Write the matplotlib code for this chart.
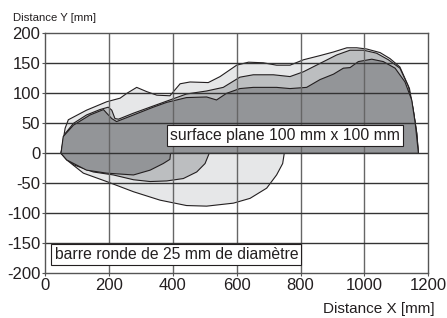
import matplotlib.pyplot as plt
from matplotlib.patches import Polygon

plt.rcParams['font.family'] = ['Liberation Sans', 'DejaVu Sans']
plt.rcParams['axes.unicode_minus'] = False

# outer zone (light gray): upper edge then lower edge, both starting at the left tip
light_top_x = [50, 63, 73, 130, 193, 235, 256, 287, 318, 350, 391, 423, 454, 511, 548,
               600, 637, 683, 725, 767, 809, 861, 903, 945, 976, 1007, 1049, 1080, 1111,
               1141, 1153, 1164, 1169]
light_top_y = [0, 42, 56, 72, 86, 92, 100, 110, 103, 97, 96, 116, 119, 118, 128,
               147, 152, 151, 147, 147, 156, 163, 169, 176, 176, 174, 168, 158, 144,
               108, 72, 33, 0]
light_bot_x = [50, 68, 120, 193, 277, 360, 443, 506, 590, 642, 694, 725, 744, 749]
light_bot_y = [0, -11, -33, -47, -64, -78, -87, -88, -83, -75, -58, -36, -17, 0]

# middle zone (medium gray)
mid_top_x = [50, 63, 89, 130, 172, 198, 209, 219, 230, 277, 339, 391, 443, 506, 558,
             610, 652, 715, 767, 809, 861, 913, 955, 997, 1038, 1075, 1111, 1138, 1153,
             1164, 1169]
mid_top_y = [0, 33, 50, 64, 73, 77, 72, 58, 57, 67, 79, 89, 99, 104, 110,
             127, 131, 131, 128, 136, 150, 164, 172, 172, 167, 156, 142, 111, 72,
             33, 0]
mid_bot_x = [50, 89, 151, 214, 277, 329, 381, 433, 475, 501, 514]
mid_bot_y = [0, -19, -31, -36, -44, -47, -46, -42, -31, -17, 0]

# inner zone (dark gray)
dark_top_x = [50, 57, 89, 141, 183, 193, 209, 224, 277, 339, 381, 443, 506, 537, 568,
              610, 652, 725, 767, 819, 861, 903, 934, 955, 981, 1023, 1059, 1096, 1127,
              1148, 1159, 1169]
dark_top_y = [0, 28, 47, 64, 73, 67, 58, 53, 64, 77, 85, 93, 94, 89, 100,
              108, 110, 110, 108, 110, 123, 132, 142, 143, 153, 157, 153, 142, 119,
              89, 50, 0]
dark_bot_x = [50, 68, 130, 193, 277, 329, 370, 391, 393]
dark_bot_y = [0, -11, -28, -33, -36, -28, -17, -10, 0]

zones = [
    (light_top_x, light_top_y, light_bot_x, light_bot_y, '#e6e7e8'),
    (mid_top_x, mid_top_y, mid_bot_x, mid_bot_y, '#bcbec0'),
    (dark_top_x, dark_top_y, dark_bot_x, dark_bot_y, '#939598'),
]

fig = plt.figure(figsize=(4.47, 3.18), dpi=100)
ax = fig.add_axes([0.1007, 0.1405, 0.8575, 0.7545])

for tx, ty, bx, by, col in zones:
    pts = list(zip(tx, ty)) + list(zip(bx[::-1], by[::-1]))
    ax.add_patch(Polygon(pts, closed=True, facecolor=col, edgecolor='#231f20',
                         linewidth=0.8, zorder=1))

ax.set_xlim(0, 1200)
ax.set_ylim(-200, 200)
ax.set_xticks(range(0, 1201, 200))
ax.set_yticks(range(-200, 201, 50))
for x in range(200, 1200, 200):
    ax.axvline(x, color='#666666', linewidth=1.0, zorder=2)
for y in range(-150, 200, 50):
    ax.axhline(y, color='#333333', linewidth=1.0, zorder=2)
for s in ax.spines.values():
    s.set_color('#555555')
    s.set_linewidth(1.0)
ax.tick_params(direction='out', length=2, width=0.8, color='#555555',
               labelsize=12, labelcolor='#231f20', pad=1.5)

box = dict(boxstyle='square,pad=0.2', facecolor='white', edgecolor='#231f20', linewidth=0.8)
ax.text(392, 30, 'surface plane 100 mm x 100 mm', fontsize=11.3, color='#231f20',
        va='center', ha='left', bbox=box, zorder=5)
ax.text(30, -169, 'barre ronde de 25 mm de diamètre', fontsize=11.3, color='#231f20',
        va='center', ha='left', bbox=box, zorder=5)

fig.text(13 / 447, 1 - 18 / 318, 'Distance Y [mm]', fontsize=8.2, color='#231f20',
         ha='left', va='center')
fig.text(435 / 447, 1 - 309 / 318, 'Distance X [mm]', fontsize=11, color='#231f20',
         ha='right', va='center')

fig.savefig('out.png', dpi=100)
